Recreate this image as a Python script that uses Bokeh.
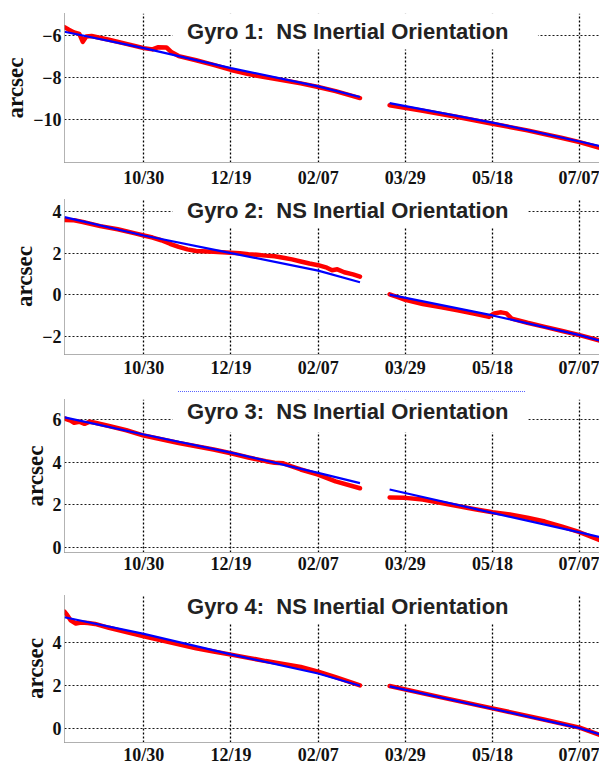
from bokeh.plotting import figure
from bokeh.models import FixedTicker, Label, Div, Range1d, BoxAnnotation
from bokeh.layouts import column
from bokeh.embed import file_html
from bokeh.resources import INLINE

# x values are days counted from 10/30
tick_days = [0, 50, 100, 150, 200, 250]
tick_labels = ["10/30", "12/19", "02/07", "03/29", "05/18", "07/07"]

titles = ["Gyro 1:\u00a0 NS Inertial Orientation", "Gyro 2:\u00a0 NS Inertial Orientation",
          "Gyro 3:\u00a0 NS Inertial Orientation", "Gyro 4:\u00a0 NS Inertial Orientation"]

y_ranges = [(-12.05, -4.95), (-2.88, 4.63), (-0.23, 6.94), (-0.64, 6.25)]
y_ticks = [[-10, -8, -6], [-2, 0, 2, 4], [0, 2, 4, 6], [0, 2, 4]]

# ---- Gyro 1 ----
g1_red_a_day = [-45.5, -43, -40, -37, -35, -33, -30, -20, -10, 0, 5, 8, 13, 16, 20, 30, 40, 50, 60, 70, 80, 90, 100, 110, 124]
g1_red_a_val = [-5.6, -5.72, -5.85, -5.92, -6.3, -6.05, -6.02, -6.2, -6.4, -6.6, -6.66, -6.56, -6.57, -6.8, -6.98, -7.18, -7.4, -7.64, -7.84, -7.99, -8.13, -8.28, -8.45, -8.65, -8.98]
g1_red_b_day = [141, 160, 180, 200, 220, 240, 250, 262]
g1_red_b_val = [-9.32, -9.58, -9.88, -10.2, -10.52, -10.88, -11.08, -11.36]
g1_blue_a_day = [-45.5, 0, 50, 100, 124]
g1_blue_a_val = [-5.82, -6.6, -7.55, -8.42, -8.93]
g1_blue_b_day = [141, 200, 250, 262]
g1_blue_b_val = [-9.22, -10.15, -11.05, -11.28]

# ---- Gyro 2 ----
g2_red_a_day = [-45.5, -40, -35, -25, -15, -5, 0, 5, 10, 15, 20, 25, 30, 40, 50, 55, 60, 65, 70, 75, 80, 85, 90, 95, 100, 105, 108, 111, 115, 120, 124]
g2_red_a_val = [3.6, 3.58, 3.5, 3.3, 3.15, 2.95, 2.85, 2.75, 2.62, 2.45, 2.3, 2.18, 2.1, 2.07, 2.02, 2.0, 1.95, 1.92, 1.88, 1.85, 1.78, 1.7, 1.6, 1.5, 1.42, 1.3, 1.18, 1.22, 1.08, 0.98, 0.87]
g2_red_b_day = [141, 145, 150, 160, 170, 180, 190, 198, 201, 205, 208, 211, 220, 230, 240, 250, 262]
g2_red_b_val = [0.02, -0.1, -0.25, -0.45, -0.6, -0.75, -0.92, -1.07, -0.9, -0.85, -0.9, -1.15, -1.35, -1.55, -1.75, -1.95, -2.22]
g2_blue_a_day = [-45.5, 0, 50, 100, 124]
g2_blue_a_val = [3.73, 2.85, 2.0, 1.16, 0.6]
g2_blue_b_day = [141, 200, 250, 262]
g2_blue_b_val = [0.0, -1.0, -1.95, -2.22]

# ---- Gyro 3 ----
g3_red_a_day = [-45.5, -42, -40, -37, -34, -31, -28, -20, -10, 0, 10, 20, 30, 40, 50, 60, 70, 75, 80, 85, 90, 100, 110, 124]
g3_red_a_val = [6.05, 5.95, 5.85, 5.9, 5.8, 5.9, 5.85, 5.7, 5.5, 5.25, 5.08, 4.9, 4.75, 4.6, 4.42, 4.22, 4.05, 3.98, 3.95, 3.8, 3.66, 3.42, 3.1, 2.78]
g3_red_b_day = [141, 150, 160, 170, 180, 190, 200, 210, 220, 230, 240, 250, 262]
g3_red_b_val = [2.35, 2.33, 2.25, 2.1, 1.95, 1.8, 1.66, 1.55, 1.4, 1.22, 0.98, 0.72, 0.33]
g3_blue_a_day = [-45.5, 0, 50, 100, 124]
g3_blue_a_val = [6.1, 5.3, 4.45, 3.5, 3.02]
g3_blue_b_day = [141, 200, 250, 262]
g3_blue_b_val = [2.72, 1.63, 0.71, 0.48]

# ---- Gyro 4 ----
g4_red_a_day = [-45.5, -44, -42, -39, -36, -32, -28, -20, -10, 0, 10, 20, 30, 40, 50, 60, 70, 80, 90, 100, 110, 124]
g4_red_a_val = [5.45, 5.3, 5.05, 4.9, 4.95, 4.92, 4.88, 4.7, 4.5, 4.3, 4.12, 3.93, 3.75, 3.6, 3.45, 3.3, 3.15, 3.02, 2.88, 2.66, 2.4, 2.02]
g4_red_b_day = [141, 170, 200, 230, 250, 262]
g4_red_b_val = [1.99, 1.47, 0.95, 0.42, 0.05, -0.3]
g4_blue_a_day = [-45.5, 0, 50, 100, 124]
g4_blue_a_val = [5.19, 4.42, 3.46, 2.57, 2.0]
g4_blue_b_day = [141, 200, 250, 262]
g4_blue_b_val = [1.97, 0.93, 0.03, -0.27]

red_series = [
    [(g1_red_a_day, g1_red_a_val), (g1_red_b_day, g1_red_b_val)],
    [(g2_red_a_day, g2_red_a_val), (g2_red_b_day, g2_red_b_val)],
    [(g3_red_a_day, g3_red_a_val), (g3_red_b_day, g3_red_b_val)],
    [(g4_red_a_day, g4_red_a_val), (g4_red_b_day, g4_red_b_val)],
]
blue_series = [
    [(g1_blue_a_day, g1_blue_a_val), (g1_blue_b_day, g1_blue_b_val)],
    [(g2_blue_a_day, g2_blue_a_val), (g2_blue_b_day, g2_blue_b_val)],
    [(g3_blue_a_day, g3_blue_a_val), (g3_blue_b_day, g3_blue_b_val)],
    [(g4_blue_a_day, g4_blue_a_val), (g4_blue_b_day, g4_blue_b_val)],
]

X_START, X_END = -45.5, 261.4

# per panel: frame height, border top, border bottom, x-label standoff
layout_cfg = [(149, 13, 30, 5), (156, 6, 31, 3), (153, 4, 30, 1), (148, 12, 25, 2)]
# title: text centre (days) and its offset below the frame top (px)
TITLE_X = 117.0
title_dy = [18, 12, 12, 12]
# white box behind the title: left/right (days) and bottom (axis value)
box_lr = [(16.5, 226.1), (16.5, 220.5), (16.5, 220.5), (16.5, 220.5)]
box_bottom = [-6.667, 3.23, 5.39, 4.9]


def make_panel(i):
    fh, bt, bb, xso = layout_cfg[i]
    yr = y_ranges[i]
    p = figure(width=599, frame_height=fh, x_range=Range1d(X_START, X_END), y_range=Range1d(*yr),
               output_backend="svg", toolbar_location=None,
               min_border_left=59, min_border_right=0, min_border_top=bt, min_border_bottom=bb)
    p.outline_line_color = None
    p.background_fill_color = "white"
    p.border_fill_color = "white"

    p.xaxis.ticker = FixedTicker(ticks=tick_days)
    p.xaxis.major_label_overrides = {d: s for d, s in zip(tick_days, tick_labels)}
    p.yaxis.ticker = FixedTicker(ticks=y_ticks[i])

    for ax in (p.xaxis[0], p.yaxis[0]):
        ax.major_tick_out = 0
        ax.major_tick_in = 0
        ax.minor_tick_out = 0
        ax.minor_tick_in = 0
        ax.major_label_text_font = "Liberation Serif"
        ax.major_label_text_font_style = "bold"
        ax.major_label_text_font_size = "18px"
        ax.major_label_text_color = "#111111"
    p.xaxis.major_label_standoff = xso
    p.xaxis.axis_line_color = "#b0b0b0"
    p.yaxis.major_label_standoff = 3
    p.yaxis.axis_line_color = "#666666"
    p.yaxis.axis_line_dash = "1 1"
    p.yaxis.axis_label = "arcsec"
    p.yaxis.axis_label_text_font = "Liberation Serif"
    p.yaxis.axis_label_text_font_style = "bold"
    p.yaxis.axis_label_text_font_size = "23px"
    p.yaxis.axis_label_text_color = "#111111"
    p.yaxis.axis_label_standoff = 2

    p.xgrid.grid_line_color = "#000000"
    p.xgrid.grid_line_dash = "2 2"
    p.xgrid.grid_line_width = 1.3
    p.ygrid.grid_line_color = "#1a1a1a"
    p.ygrid.grid_line_dash = "2 2"
    p.ygrid.grid_line_width = 1

    l, r = box_lr[i]
    p.add_layout(BoxAnnotation(left=l, right=r, bottom=box_bottom[i], top=yr[1] + 1,
                               fill_color="white", fill_alpha=1.0, line_color=None,
                               level="underlay"))

    for xs, ys in red_series[i]:
        p.line(xs, ys, line_color="#ff0000", line_width=4.5, line_join="round", line_cap="round")
    for xs, ys in blue_series[i]:
        p.line(xs, ys, line_color="#0000ff", line_width=2.2)

    lab = Label(x=TITLE_X, y=yr[1], x_units="data", y_units="data", text=titles[i],
                text_align="center", text_baseline="middle", y_offset=-title_dy[i],
                text_font="Liberation Sans", text_font_style="bold", text_font_size="22px",
                text_color="#222222")
    p.add_layout(lab)
    return p


panels = [make_panel(i) for i in range(4)]

# faint blue dotted rule between panel 2 and panel 3
sep = Div(text="", width=347, height=4, margin=(6, 0, 0, 178),
          styles={"border-top": "1px dotted #5a64ff", "box-sizing": "border-box"})

layout = column(panels[0], panels[1], sep, panels[2], panels[3], spacing=0)

open("out.html", "w").write(file_html(layout, INLINE))
